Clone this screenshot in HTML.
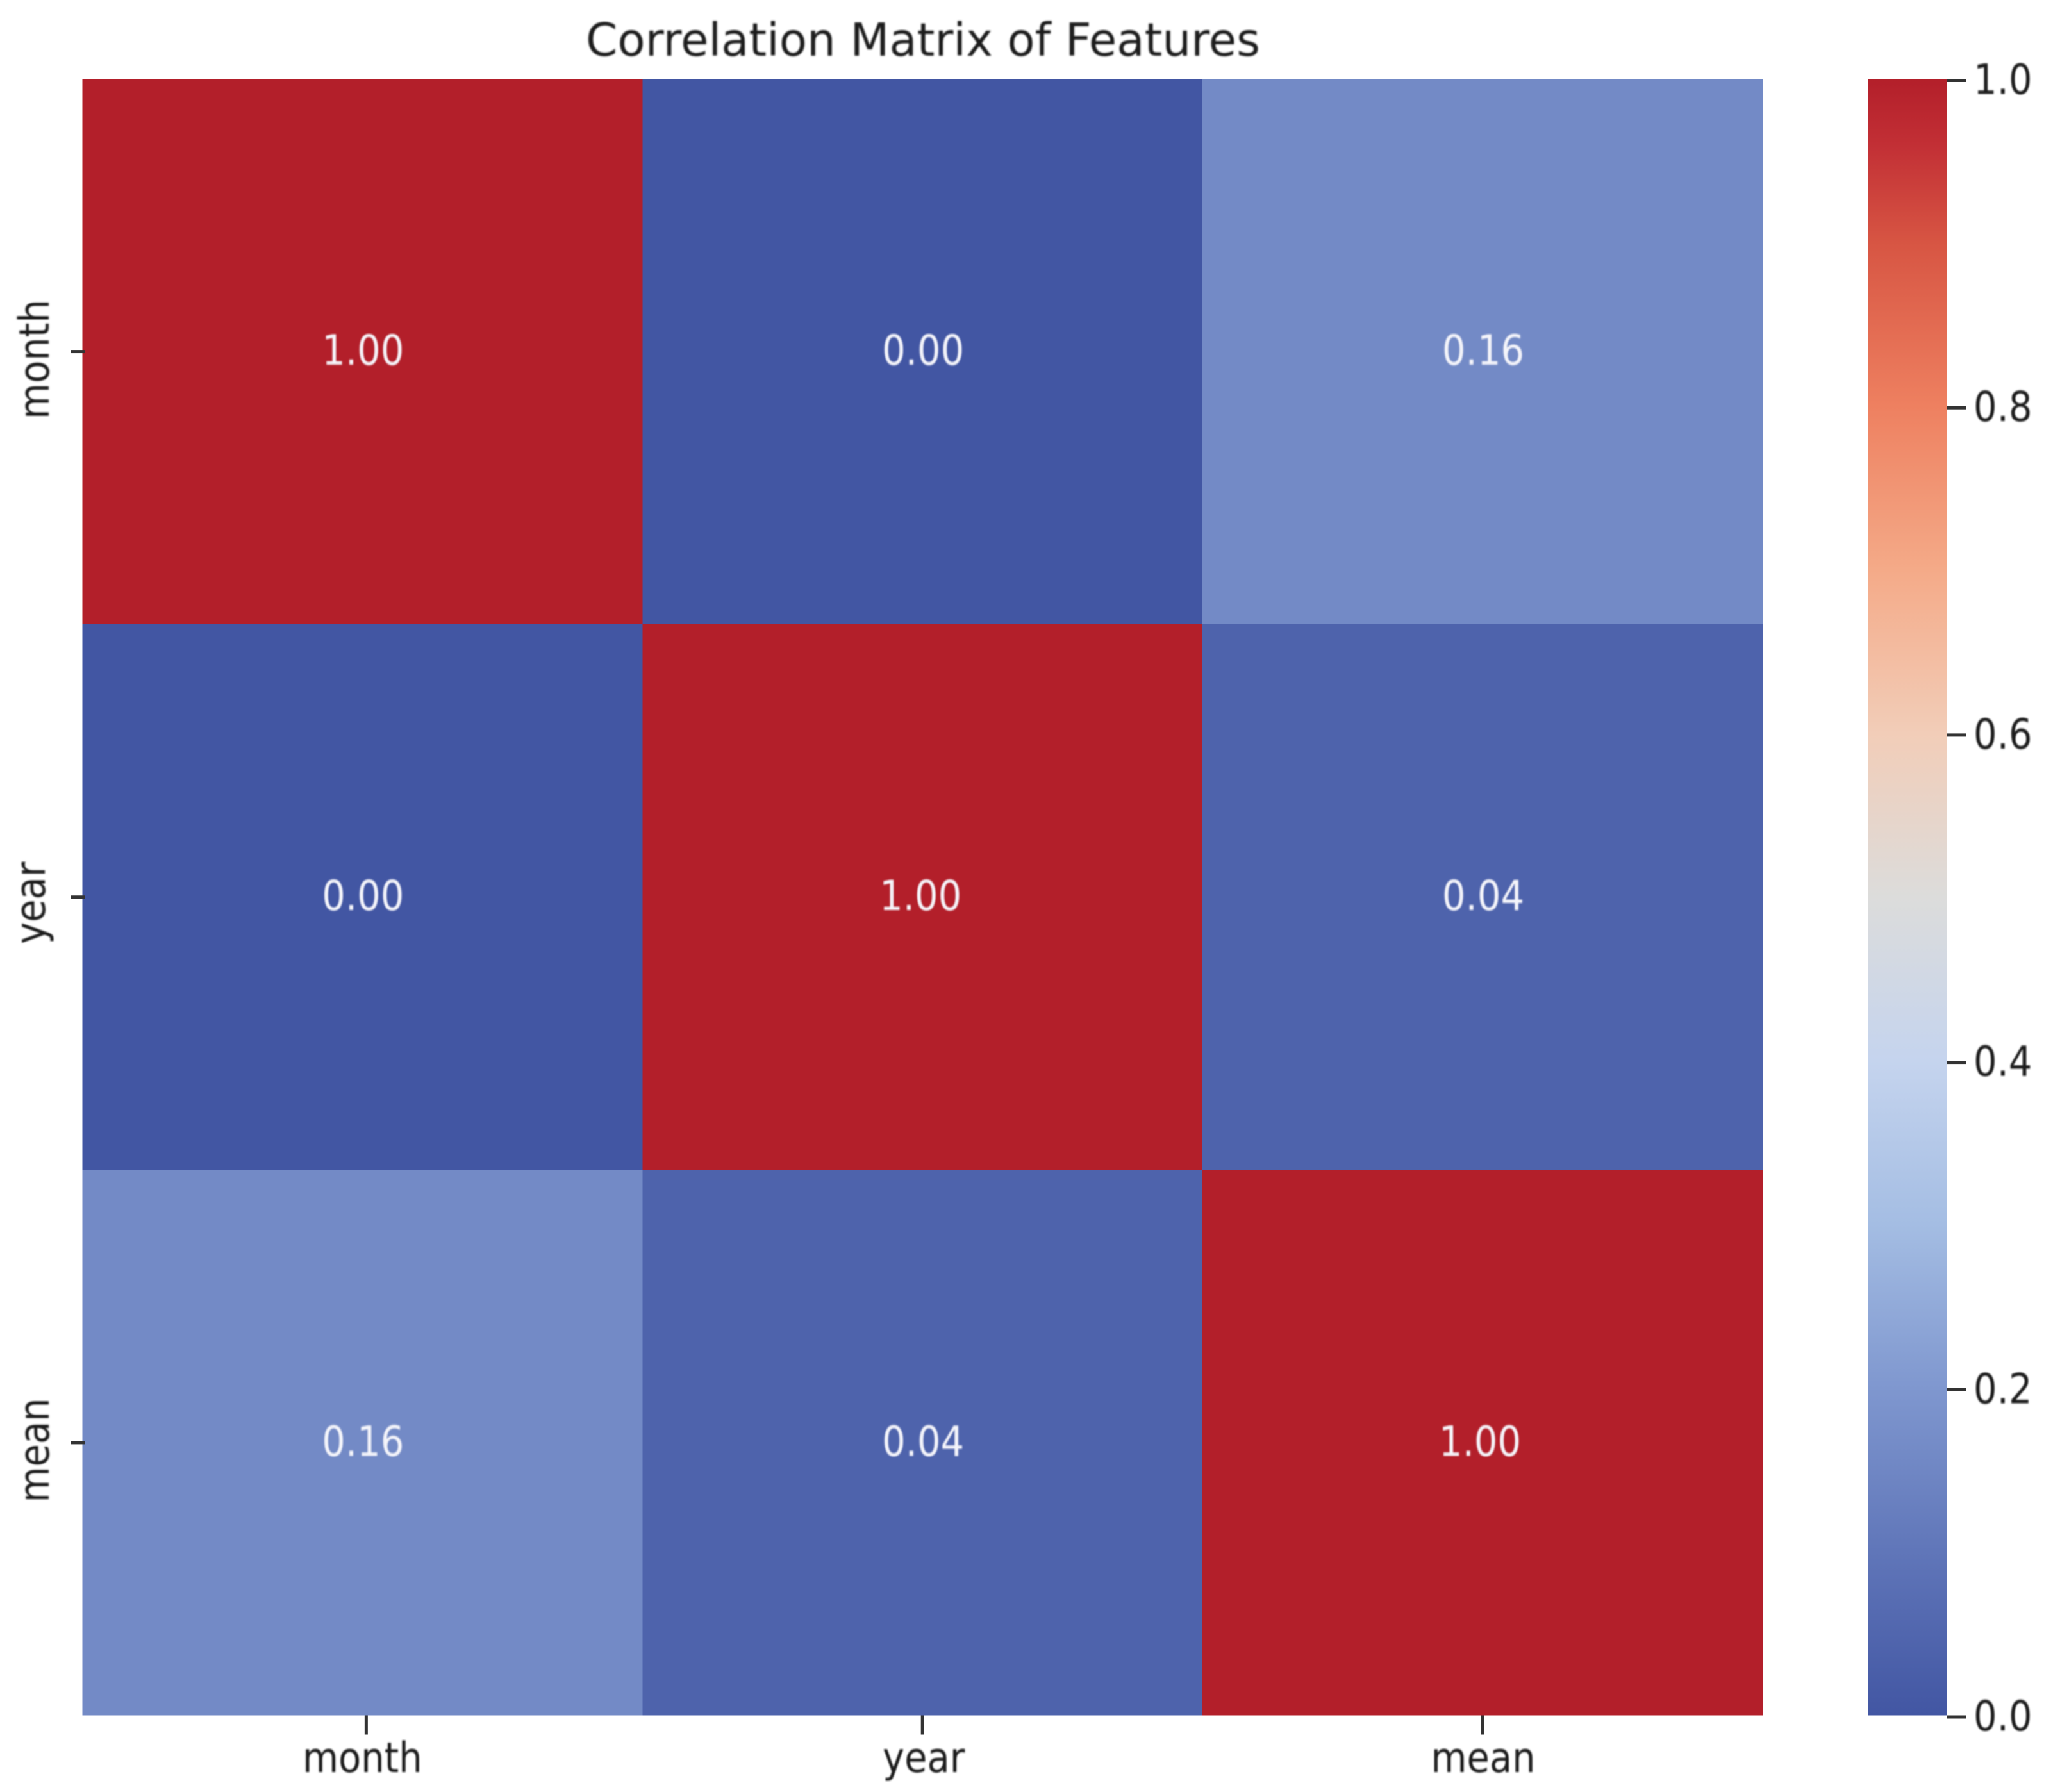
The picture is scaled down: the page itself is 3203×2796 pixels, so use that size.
<!DOCTYPE html>
<html lang="en">
<head>
<meta charset="utf-8">
<title>Correlation Matrix of Features</title>
<style>
  html, body { margin: 0; padding: 0; background: #ffffff; }
  #chart { display: block; width: 3203px; height: 2796px; }
  text { font-family: "DejaVu Sans", "Liberation Sans", sans-serif; }
  .soft { filter: blur(1.2px); }
</style>
</head>
<body>
<svg id="chart" xmlns="http://www.w3.org/2000/svg" width="3203" height="2796" viewBox="0 0 3203 2796">
  <defs>
    <linearGradient id="cbar-gradient" x1="0" y1="1" x2="0" y2="0"></linearGradient>
  </defs>
  <rect x="0" y="0" width="3203" height="2796" fill="#ffffff"></rect>
  <text class="soft" x="1440" y="87" font-size="71" text-anchor="middle" fill="#1c1c1c" textLength="1052" lengthAdjust="spacingAndGlyphs">Correlation Matrix of Features</text>
  <g id="cells"></g>
  <g id="annots"></g>
  <g id="xaxis"></g>
  <g id="yaxis"></g>
  <g id="cbar"></g>
</svg>
<script>
const categories = ["month", "year", "mean"];
const rowMonth = [1.00, 0.00, 0.16];
const rowYear = [0.00, 1.00, 0.04];
const rowMean = [0.16, 0.04, 1.00];
const colorbarTicks = [0.0, 0.2, 0.4, 0.6, 0.8, 1.0];
const colormapLevels = [0, 0.1, 0.2, 0.3, 0.4, 0.5, 0.6, 0.7, 0.8, 0.9, 0.96, 1];
const colormapColors = ["#4256a3", "#6076b9", "#7f97cf", "#a4bde3", "#c5d4ee", "#dcdcdb", "#f2cdb8", "#f4aa88", "#ee8060", "#d75543", "#c22f35", "#b31f2a"];

const matrix = [rowMonth, rowYear, rowMean];
const NS = "http://www.w3.org/2000/svg";
const plot = { left: 128.4, right: 2750, top: 123, bottom: 2676.5 };
const bar = { left: 2914, right: 3037, top: 123, bottom: 2676.5 };
const textScale = 0.885;
const tickColor = "#333333";

function xEdge(i) { return plot.left + (plot.right - plot.left) * i / categories.length; }
function yEdge(i) { return plot.top + (plot.bottom - plot.top) * i / categories.length; }
function xCenter(i) { return xEdge(i + 0.5); }
function yCenter(i) { return yEdge(i + 0.5); }
function barY(v) { return bar.bottom + 2.5 - (bar.bottom - bar.top) * v; }

function hexToRgb(h) {
  return [1, 3, 5].map(function (k) { return parseInt(h.slice(k, k + 2), 16); });
}
function colorFor(v) {
  const c = Math.max(0, Math.min(1, v));
  let k = 0;
  while (k < colormapLevels.length - 2 && c > colormapLevels[k + 1]) k++;
  const t = (c - colormapLevels[k]) / (colormapLevels[k + 1] - colormapLevels[k]);
  const a = hexToRgb(colormapColors[k]);
  const b = hexToRgb(colormapColors[k + 1]);
  const m = a.map(function (x, n) { return Math.round(x + (b[n] - x) * t); });
  return "rgb(" + m.join(",") + ")";
}
function make(tag, attrs) {
  const el = document.createElementNS(NS, tag);
  Object.keys(attrs).forEach(function (k) { el.setAttribute(k, attrs[k]); });
  return el;
}
function label(parent, str, x, y, size, fill, anchor, rotate) {
  const t = make("text", {
    transform: "translate(" + x + " " + y + ") rotate(" + rotate + ") scale(" + textScale + " 1)",
    "font-size": size,
    fill: fill,
    "text-anchor": anchor,
    class: "soft"
  });
  t.textContent = str;
  parent.appendChild(t);
  return t;
}

const cellsG = document.getElementById("cells");
const annotsG = document.getElementById("annots");
const diagonalNudge = [0, -4, -5];
matrix.forEach(function (row, r) {
  row.forEach(function (v, c) {
    const rect = make("rect", {
      x: xEdge(c),
      y: yEdge(r),
      width: xEdge(c + 1) - xEdge(c),
      height: yEdge(r + 1) - yEdge(r),
      fill: colorFor(v),
      "shape-rendering": "crispEdges"
    });
    
    
    cellsG.appendChild(rect);
    const dx = r === c ? diagonalNudge[c] : 0;
    const t = label(annotsG, v.toFixed(2), xCenter(c) + 1 + dx, yEdge(r) + 446, 65, "#f5f5fa", "middle", 0);
    
    
  });
});

const xG = document.getElementById("xaxis");
const yG = document.getElementById("yaxis");
const xTickNudge = [6, 0, 0];
const xLabelNudge = [0, 2, 1];
const yLabelNudge = [12, 9, 12];
const yBaseline = [76, 70, 76];
categories.forEach(function (name, i) {
  const xt = make("rect", { x: xCenter(i) + xTickNudge[i] - 2.5, y: plot.bottom, width: 5, height: 30, fill: tickColor });
  
  
  xG.appendChild(xt);
  const xl = label(xG, name, xCenter(i) + xLabelNudge[i], 2765, 65, "#1c1c1c", "middle", 0);
  
  

  const yt = make("rect", { x: 111, y: yCenter(i) - 2.5, width: 22, height: 5, fill: tickColor });
  
  
  yG.appendChild(yt);
  const yl = label(yG, name, yBaseline[i], yCenter(i) + yLabelNudge[i], 65, "#1c1c1c", "middle", -90);
  
  
});

const grad = document.getElementById("cbar-gradient");
colormapLevels.forEach(function (lv, i) {
  grad.appendChild(make("stop", { offset: lv, "stop-color": colormapColors[i] }));
});
const cbarG = document.getElementById("cbar");
const cbarRect = make("rect", { x: bar.left, y: bar.top, width: bar.right - bar.left, height: bar.bottom - bar.top, fill: "url(#cbar-gradient)" });


cbarG.appendChild(cbarRect);
colorbarTicks.forEach(function (v) {
  const tick = make("rect", { x: bar.right, y: barY(v) - 2.5, width: 30, height: 5, fill: tickColor });
  
  
  cbarG.appendChild(tick);
  const t = label(cbarG, v.toFixed(1), 3079, barY(v) + 21, 65, "#1c1c1c", "start", 0);
  
  
});
</script>
</body>
</html>
